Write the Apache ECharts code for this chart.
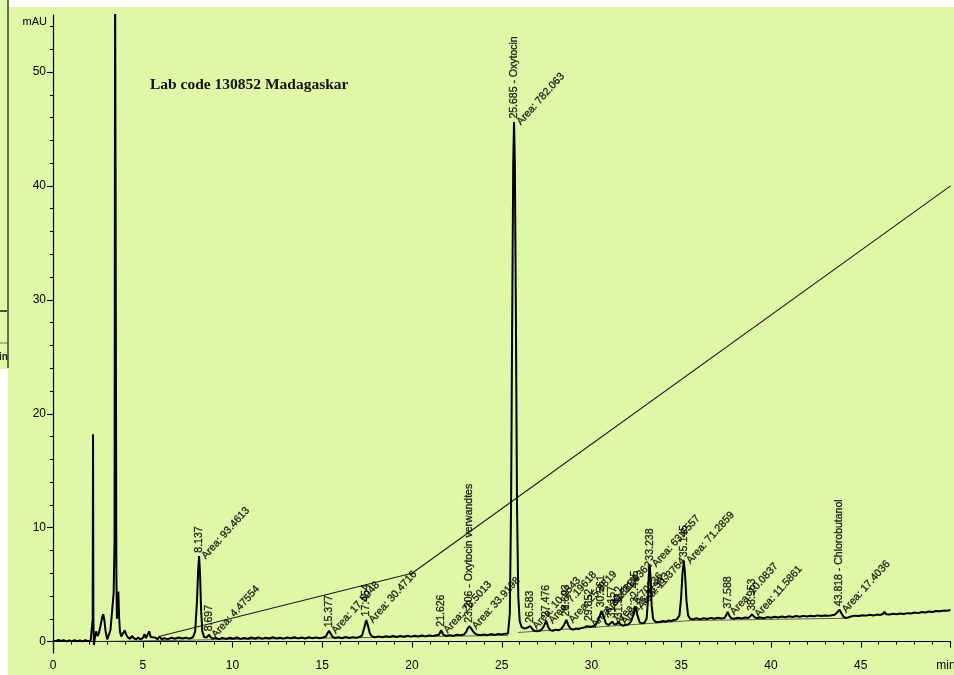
<!DOCTYPE html>
<html>
<head>
<meta charset="utf-8">
<script src="https://cdn.jsdelivr.net/npm/echarts@6/dist/echarts.min.js"></script>
<style>
  html, body { margin: 0; padding: 0; background: #dff7a6; }
  #chart { width: 954px; height: 675px; }
</style>
</head>
<body>
<div id="chart"></div>
<script>
// Detector signal, [retention time (min), absorbance (mAU)]
const traceSolventFront = [
  [0,0.1],[0.15,0.04],[0.3,0.14],[0.45,0.05],[0.6,0.12],[0.75,0.02],[0.9,0.11],[1.05,0.04],
  [1.2,0.13],[1.35,0.03],[1.5,0.1],[1.65,0.02],[1.8,0.12],[1.95,0.04],[2.1,0.1],[2.19,0.03],
  [2.21,2.0],[2.23,18.2],[2.25,2.0],[2.28,-0.3],[2.33,0.3],[2.4,0.9],[2.47,0.5],[2.55,0.7],
  [2.65,1.4],[2.75,2.2],[2.8,2.4],[2.86,1.9],[2.93,0.9],[3.02,0.2],[3.1,0.3],[3.2,1.0],
  [3.3,2.8],[3.38,4.3],[3.43,9],[3.46,60],[3.5,60],[3.53,6],[3.56,2.0],[3.6,3.2],[3.64,4.4],
  [3.68,2.2],[3.73,0.9],[3.8,0.45],[3.9,0.6],[4.0,1.0],[4.08,0.6],[4.18,0.35],[4.3,0.25],
  [4.4,0.5],[4.5,0.3],[4.62,0.2],[4.75,0.35],[4.88,0.2],[5.0,0.3],[5.1,0.65],[5.18,0.3],
  [5.28,0.45],[5.36,0.9],[5.44,0.4],[5.55,0.25],[5.7,0.35],[5.82,0.2],[5.95,0.45],[6.05,0.2]
];
const traceEarly = [
  [6.2,0.3],[6.4,0.22],[6.6,0.34],[6.8,0.25],[7.0,0.36],[7.2,0.27],[7.4,0.35],[7.6,0.26],
  [7.8,0.38],[7.92,0.9],[8.02,3.5],[8.08,6.0],[8.137,7.5],[8.19,6.0],[8.25,2.8],[8.32,0.9],
  [8.42,0.4],[8.55,0.35],[8.63,0.5],[8.697,0.6],[8.77,0.4],[8.9,0.25],[9.05,0.32],[9.25,0.22],
  [9.45,0.33],[9.65,0.24],[9.85,0.34],[10.05,0.26],[10.25,0.36],[10.45,0.24],[10.65,0.33],
  [10.85,0.25],[11.05,0.36],[11.25,0.27],[11.45,0.37],[11.65,0.26],[11.85,0.35],[12.05,0.27],
  [12.25,0.38],[12.45,0.28],[12.65,0.34],[12.85,0.26],[13.05,0.37],[13.25,0.29],[13.45,0.38],
  [13.65,0.28],[13.85,0.36],[14.05,0.27],[14.25,0.38],[14.45,0.3],[14.65,0.37],[14.85,0.3],
  [15.05,0.36],[15.2,0.45],[15.28,0.7],[15.377,0.95],[15.47,0.7],[15.57,0.42],[15.7,0.32],
  [15.9,0.38],[16.1,0.3],[16.3,0.4],[16.5,0.31],[16.7,0.39],[16.9,0.33],[17.1,0.42],[17.22,0.55],
  [17.32,1.1],[17.454,1.9],[17.56,1.3],[17.66,0.7],[17.78,0.45],[17.95,0.38],[18.15,0.46],
  [18.35,0.38],[18.55,0.47],[18.75,0.4],[18.95,0.49],[19.15,0.41],[19.35,0.5],[19.55,0.42],
  [19.75,0.52],[19.95,0.44],[20.15,0.52],[20.35,0.45],[20.55,0.54],[20.75,0.46],[20.95,0.55],
  [21.15,0.48],[21.35,0.56],[21.5,0.6],[21.626,1.0],[21.74,0.62],[21.9,0.5],[22.1,0.57],
  [22.3,0.5],[22.5,0.6],[22.7,0.55],[22.9,0.63],[23.02,0.85],[23.1,1.15],[23.206,1.35],
  [23.32,1.1],[23.45,0.8],[23.6,0.62],[23.8,0.55],[24.0,0.63],[24.2,0.56],[24.4,0.66],
  [24.6,0.58],[24.8,0.68],[25.0,0.62],[25.2,0.7],[25.35,0.72]
];
const traceMain = [
  [25.45,2.5],[25.52,12],[25.58,28],[25.64,42],[25.685,45.6],[25.73,42],[25.79,28],[25.85,12],
  [25.92,4],[26.0,1.8],[26.1,1.3],[26.25,1.15],[26.4,1.2],[26.5,1.25],[26.583,1.35],[26.68,1.15],
  [26.8,0.95],[26.95,0.9],[27.1,0.95],[27.25,1.1],[27.36,1.4],[27.476,1.85],[27.58,1.3],
  [27.7,1.0],[27.85,0.95],[28.0,1.05],[28.15,1.0],[28.3,1.1],[28.45,1.4],[28.603,1.9],
  [28.72,1.4],[28.85,1.1],[29.0,1.05],[29.15,1.15],[29.3,1.1],[29.45,1.2],[29.6,1.25],
  [29.75,1.35],[29.852,1.5],[29.95,1.3],[30.1,1.35],[30.25,1.5],[30.4,2.0],[30.561,2.7],
  [30.68,2.2],[30.8,1.6],[30.95,1.45],[31.05,1.55],[31.157,1.75],[31.27,1.5],[31.4,1.55],
  [31.512,1.75],[31.62,1.5],[31.75,1.4],[31.9,1.45],[32.05,1.5],[32.2,1.75],[32.32,2.3],
  [32.445,3.1],[32.56,2.3],[32.68,1.7],[32.82,1.6],[32.95,1.65],[33.07,2.0],[33.14,3.5],
  [33.19,5.8],[33.238,6.8],[33.29,5.6],[33.35,3.2],[33.43,2.0],[33.55,1.75],[33.7,1.7],
  [33.85,1.75],[34.0,1.8],[34.15,1.75],[34.3,1.85],[34.45,1.8],[34.6,1.9],[34.75,1.95],
  [34.9,2.3],[34.99,3.8],[35.07,6.0],[35.145,7.1],[35.21,6.0],[35.29,3.6],[35.38,2.3],
  [35.5,2.0],[35.65,1.95],[35.85,2.05],[36.05,1.95],[36.25,2.05],[36.45,1.98],[36.65,2.08],
  [36.85,2.0],[37.05,2.1],[37.25,2.02],[37.42,2.1],[37.5,2.3],[37.588,2.6],[37.67,2.3],
  [37.78,2.05],[37.95,2.0]
];
const traceLate = [
  [38.15,2.1],[38.35,2.02],[38.55,2.12],[38.75,2.08],[38.85,2.2],[38.953,2.4],[39.05,2.2],
  [39.2,2.05],[39.4,2.12],[39.6,2.05],[39.8,2.15],[40.0,2.1],[40.2,2.18],[40.4,2.12],[40.6,2.2],
  [40.8,2.14],[41.0,2.22],[41.2,2.16],[41.4,2.24],[41.6,2.18],[41.8,2.26],[42.0,2.2],[42.2,2.27],
  [42.4,2.22],[42.6,2.3],[42.8,2.24],[43.0,2.3],[43.2,2.26],[43.4,2.32],[43.55,2.35],[43.68,2.55],
  [43.818,2.8],[43.92,2.5],[44.03,2.2],[44.15,2.08],[44.3,2.12],[44.5,2.22],[44.7,2.28],
  [44.9,2.25],[45.1,2.32],[45.3,2.28],[45.5,2.35],[45.7,2.3],[45.9,2.37],[46.1,2.34],[46.22,2.42],
  [46.32,2.6],[46.42,2.4],[46.6,2.38],[46.8,2.44],[47.0,2.4],[47.2,2.47],[47.4,2.43],[47.6,2.5],
  [47.8,2.47],[48.0,2.55],[48.2,2.5],[48.4,2.6],[48.6,2.56],[48.8,2.65],[49.0,2.6],[49.2,2.68],
  [49.4,2.66],[49.6,2.72],[49.8,2.7],[50.0,2.78]
];

// Integration baselines drawn under the peaks
const baselineFront = [[2.2,0.0],[25.35,0.55]];
const baselineMid = [[25.9,0.8],[35.6,1.85]];
const baselineTail = [[35.6,1.85],[44.2,2.05]];
// Straight reference lines across the run
const rampFirst = [[6.0,0.5],[20,6.0]];
const rampSecond = [[20,6.0],[50,40]];

// Integrated peaks
const peakTimes = [8.137, 8.697, 15.377, 17.454, 21.626, 23.206, 25.685, 26.583, 27.476, 28.603,
  29.852, 30.561, 31.157, 31.512, 32.445, 33.238, 35.145, 37.588, 38.953, 43.818];
const peakHeights = [7.5, 0.6, 0.95, 1.9, 1.0, 1.35, 45.6, 1.35, 1.85, 1.9,
  1.5, 2.7, 1.75, 1.75, 3.1, 6.8, 7.1, 2.6, 2.4, 2.8];
const peakNames = ['', '', '', '', '', 'Oxytocin verwandtes', 'Oxytocin', '', '', '',
  '', '', '', '', '', '', '', '', '', 'Chlorobutanol'];
const peakAreas = ['93.4613', '4.47554', '17.5048', '30.4716', '28.5013', '33.9198', '782.063',
  '10.9543', '7.19618', '25.8819', '20.8884', '31.0362', '5.70236', '6.31563', '11.3764',
  '63.6557', '71.2859', '10.0837', '11.5861', '17.4036'];

// Axis ticks
const yMajorTicks = [0, 10, 20, 30, 40, 50];
const yMinorTicks = [2, 4, 6, 8, 12, 14, 16, 18, 22, 24, 26, 28, 32, 34, 36, 38, 42, 44, 46, 48, 52, 54];

const INK = '#000';
const SANS = '"Liberation Sans", Arial, sans-serif';
const peakPoints = peakTimes.map((t, i) => [t, peakHeights[i]]);

const labelText = { fontSize: 10.5, fontFamily: SANS, color: INK, textBorderColor: '#000', textBorderWidth: 0.35 };

const chart = echarts.init(document.getElementById('chart'), null, { renderer: 'canvas' });
chart.setOption({
  animation: false,
  backgroundColor: '#dff7a6',
  title: {
    text: 'Lab code 130852 Madagaskar',
    left: 150, top: 77, padding: 0,
    textStyle: { fontFamily: '"Liberation Serif", "Times New Roman", serif', fontWeight: 'bold', fontSize: 15.5, color: '#111' }
  },
  graphic: [
    { type: 'rect', shape: { x: 9, y: 0, width: 945, height: 7 }, style: { fill: '#ffffff' }, z: 1 },
    { type: 'text', left: 57, top: -3, style: { text: 'PWr 1,1 14608878', fontSize: 10, fontFamily: SANS, fill: '#222' }, z: 0 },
    { type: 'rect', shape: { x: 0, y: 369, width: 8, height: 306 }, style: { fill: '#ffffff' }, z: 1 },
    { type: 'line', shape: { x1: 8, y1: 0, x2: 8, y2: 368 }, style: { stroke: '#333', lineWidth: 1.4 }, z: 2 },
    { type: 'line', shape: { x1: 0, y1: 311, x2: 7, y2: 311 }, style: { stroke: '#222', lineWidth: 1.6 }, z: 2 },
    { type: 'line', shape: { x1: 0, y1: 343, x2: 8, y2: 343 }, style: { stroke: '#555', lineWidth: 0.8 }, z: 2 },
    { type: 'text', left: -1, top: 352, style: { text: 'in', fontSize: 10, fontWeight: 'bold', fontFamily: SANS, fill: '#222' }, z: 2 }
  ],
  grid: { left: 53, top: 15, right: 3.5, bottom: 22, outerBoundsMode: 'none', containLabel: false },
  xAxis: {
    type: 'value', min: 0, max: 50, interval: 5,
    axisLine: { lineStyle: { color: INK, width: 1.2 } },
    axisTick: { length: 6, lineStyle: { color: INK, width: 1.1 } },
    minorTick: { show: true, splitNumber: 5, length: 3, lineStyle: { color: INK, width: 1 } },
    splitLine: { show: false },
    axisLabel: {
      color: INK, fontSize: 12, fontFamily: SANS, margin: 7,
      formatter: v => (v === 50 ? '{unit|min}' : String(v)),
      rich: { unit: { fontSize: 12, fontFamily: SANS, color: INK, padding: [0, 9, 0, 0] } }
    }
  },
  yAxis: [
    {
      type: 'value', min: -1, max: 55,
      name: 'mAU', nameLocation: 'end', nameGap: -7,
      nameTextStyle: { color: INK, fontSize: 11, fontFamily: SANS, align: 'right', verticalAlign: 'middle', padding: [0, 6, 0, 0] },
      axisLine: { show: true, lineStyle: { color: INK, width: 1.2 } },
      axisTick: { show: true, customValues: yMajorTicks, length: 6, lineStyle: { color: INK, width: 1.1 } },
      axisLabel: { customValues: yMajorTicks, color: INK, fontSize: 12, fontFamily: SANS, margin: 7 },
      splitLine: { show: false }
    },
    {
      type: 'value', min: -1, max: 55, position: 'left',
      axisLine: { show: false },
      axisTick: { show: true, customValues: yMinorTicks, length: 3, lineStyle: { color: INK, width: 1 } },
      axisLabel: { show: false },
      splitLine: { show: false }
    }
  ],
  series: [
    {
      name: 'baseline', type: 'line', data: baselineFront, showSymbol: false, silent: true,
      lineStyle: { color: '#3a3a3a', width: 0.8 }, z: 2
    },
    {
      name: 'baseline2', type: 'line', data: baselineMid, showSymbol: false, silent: true,
      lineStyle: { color: '#3a3a3a', width: 0.8 }, z: 2
    },
    {
      name: 'baseline3', type: 'line', data: baselineTail, showSymbol: false, silent: true,
      lineStyle: { color: '#3a3a3a', width: 0.8 }, z: 2
    },
    {
      name: 'ramp1', type: 'line', data: rampFirst, showSymbol: false, silent: true,
      lineStyle: { color: '#1a1a1a', width: 1.1 }, z: 2
    },
    {
      name: 'ramp2', type: 'line', data: rampSecond, showSymbol: false, silent: true,
      lineStyle: { color: '#1a1a1a', width: 1.1 }, z: 2
    },
    {
      name: 'signal', type: 'line', clip: true, showSymbol: false, silent: true,
      data: traceSolventFront.concat(traceEarly, traceMain, traceLate),
      lineStyle: { color: '#000', width: 2 }, z: 3
    },
    {
      name: 'retention', type: 'scatter', data: peakPoints, symbolSize: 1, silent: true,
      itemStyle: { color: 'rgba(0,0,0,0)' }, z: 4,
      label: Object.assign({
        show: true, position: 'top', distance: 3, rotate: 90, align: 'left', verticalAlign: 'middle',
        formatter: p => {
          const i = p.dataIndex;
          return peakTimes[i].toFixed(3) + (peakNames[i] ? ' - ' + peakNames[i] : '');
        }
      }, labelText)
    },
    {
      name: 'area', type: 'scatter', data: peakPoints, symbolSize: 1, silent: true,
      itemStyle: { color: 'rgba(0,0,0,0)' }, z: 4,
      label: Object.assign({
        show: true, position: [5, 2], rotate: 48, align: 'left', verticalAlign: 'middle',
        formatter: p => 'Area: ' + peakAreas[p.dataIndex]
      }, labelText)
    }
  ]
});
</script>
</body>
</html>
